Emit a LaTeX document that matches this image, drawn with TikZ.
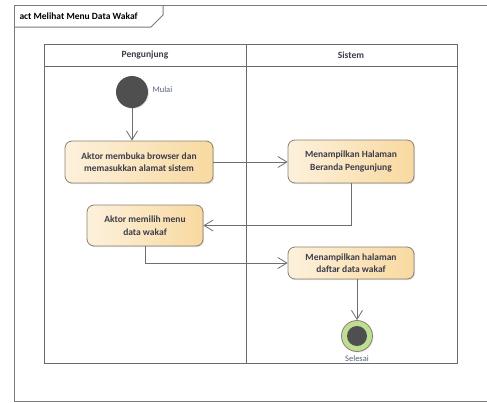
\documentclass[tikz,border=0pt]{standalone}
\usepackage{fontspec}
\setmainfont{Carlito}
\usetikzlibrary{arrows.meta,shadows}
\definecolor{framec}{HTML}{7A7A7A}
\definecolor{lanec}{HTML}{6A6A6A}
\definecolor{flowc}{HTML}{6E6E6E}
\definecolor{boxline}{HTML}{8A8070}
\definecolor{boxl}{HTML}{FDF1DC}
\definecolor{boxr}{HTML}{F8D9A0}
\definecolor{txtc}{HTML}{3C3C4A}
\definecolor{nodedark}{HTML}{4F4F4F}
\definecolor{ringc}{HTML}{BFDD93}
\definecolor{labc}{HTML}{55607A}
\tikzset{
  actbox/.style={draw=boxline, line width=0.8pt, rounded corners=7pt,
    left color=boxl, right color=boxr, align=center, text=txtc,
    font=\fontsize{9.5}{12.5}\selectfont\bfseries, inner sep=0pt,
    drop shadow={shadow xshift=1.2pt, shadow yshift=-1.2pt, opacity=0.25}},
  flow/.style={draw=flowc, line width=0.8pt, -{Straight Barb[length=9pt,width=11pt,line width=0.8pt]}},
  lanehead/.style={text=txtc, font=\fontsize{9.5}{11}\selectfont\bfseries},
  smalllab/.style={text=labc, font=\fontsize{8.5}{10}\selectfont}
}
\begin{document}
\begin{tikzpicture}[x=1pt,y=-1pt]
\useasboundingbox (0,0) rectangle (487,402);
% outer activity frame and its name tab
\draw[framec, line width=1pt] (490,5) -- (14,5) -- (14,401) -- (490,401);
\draw[framec, line width=1pt] (14,27) -- (151,27) -- (163,15) -- (163,5);
\node[anchor=west, text=black, font=\fontsize{9.5}{11}\selectfont\bfseries] (title) at (16,16) {act Melihat Menu Data Wakaf};
% swimlanes
\draw[lanec, line width=1pt] (44,44) rectangle (457,363);
\draw[lanec, line width=1pt] (44,66) -- (457,66);
\draw[lanec, line width=1pt] (246,44) -- (246,363);
\node[lanehead] (laneP) at (145,55) {Pengunjung};
\node[lanehead] (laneS) at (351,55) {Sistem};
% start node
\node[circle, fill=nodedark, minimum size=32pt, inner sep=0pt,
  drop shadow={shadow xshift=1pt, shadow yshift=-1pt, opacity=0.2}] (start) at (132,92) {};
\node[smalllab, anchor=west] (startlab) at (149,90) {Mulai};
% actions
\node[actbox, minimum width=148pt, minimum height=42pt] (a1) at (139,162)
  {Aktor membuka browser dan\\memasukkan alamat sistem};
\node[actbox, minimum width=126pt, minimum height=43pt] (a2) at (351,161.5)
  {Menampilkan Halaman\\Beranda Pengunjung};
\node[actbox, minimum width=116pt, minimum height=41pt] (a3) at (145,225.5)
  {Aktor memilih menu\\data wakaf};
\node[actbox, minimum width=126pt, minimum height=32pt] (a4) at (351,263)
  {Menampilkan halaman\\daftar data wakaf};
% final node
\node[circle, draw=boxline, line width=0.8pt, fill=ringc, minimum size=31pt, inner sep=0pt,
  drop shadow={shadow xshift=1pt, shadow yshift=-1pt, opacity=0.2}] (final) at (357,336) {};
\node[circle, fill=nodedark, minimum size=20pt, inner sep=0pt] (finalcore) at (final) {};
\node[smalllab] (finallab) at (357,358.5) {Selesai};
% control flows
\draw[flow] (start.south) -- (start.south |- a1.north);
\draw[flow] (a1.east) -- (a1.east -| a2.west);
\draw[flow] (a2.south) |- (a3.east);
\draw[flow] (a3.south) |- (a4.west);
\draw[flow] (final |- a4.south) -- (final.north);
\end{tikzpicture}
\end{document}
